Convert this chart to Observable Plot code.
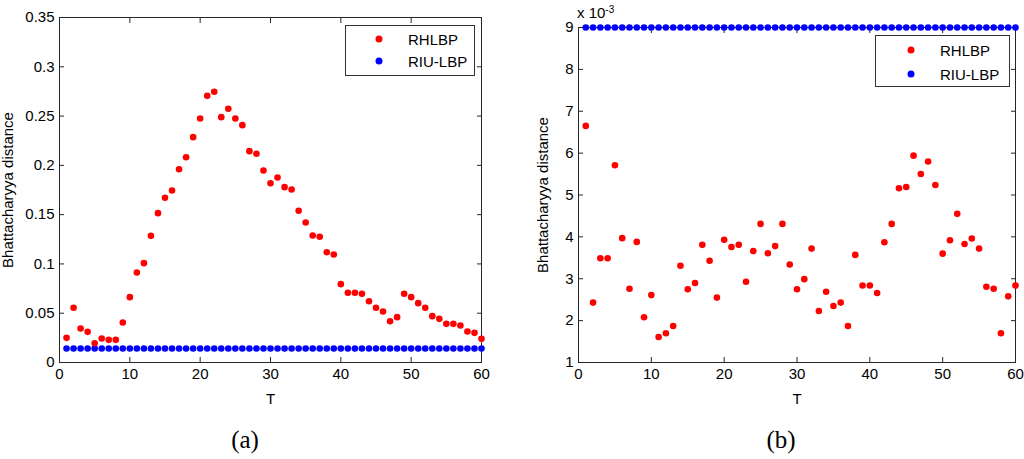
<!DOCTYPE html>
<html><head><meta charset="utf-8">
<script src="https://cdn.jsdelivr.net/npm/d3@7"></script>
<script src="https://cdn.jsdelivr.net/npm/@observablehq/plot@0.6"></script>
<style>
body{margin:0;background:#fff;}
#wrap{position:relative;width:1024px;height:459px;overflow:hidden;font-family:"Liberation Sans",Arial,sans-serif;color:#000;}
.panel{position:absolute;top:0;}
.legend{position:absolute;border:1px solid #333;background:#fff;box-sizing:border-box;}
.li{position:absolute;font-size:15px;line-height:15px;transform:translateY(-50%);white-space:nowrap;}
.dot{position:absolute;width:7px;height:7px;border-radius:50%;transform:translate(-50%,-50%);}
.cap{position:absolute;font-family:"Liberation Serif","Times New Roman",serif;font-size:25px;transform:translate(-50%,-50%);}
.exp{position:absolute;font-size:15px;line-height:15px;white-space:nowrap;}
</style></head><body><div id="wrap"></div>
<script>
// ---- data ----
const T = [1,2,3,4,5,6,7,8,9,10,11,12,13,14,15,16,17,18,19,20,21,22,23,24,25,26,27,28,29,30,
  31,32,33,34,35,36,37,38,39,40,41,42,43,44,45,46,47,48,49,50,51,52,53,54,55,56,57,58,59,60];
const seriesNames = ["RHLBP", "RIU-LBP"];
const seriesColors = ["#ff0000", "#0000ff"];

// panel (a)
const rhlbpA = [0.0250,0.0555,0.0345,0.0311,0.0196,0.0243,0.0230,0.0230,0.0406,0.0663,
  0.0913,0.1008,0.1285,0.1515,0.1671,0.1745,0.1961,0.2083,0.2286,0.2476,
  0.2705,0.2746,0.2489,0.2574,0.2476,0.2408,0.2144,0.2117,0.1948,0.1819,
  0.1877,0.1779,0.1755,0.1539,0.1420,0.1288,0.1275,0.1119,0.1096,0.0795,
  0.0707,0.0707,0.0697,0.0622,0.0555,0.0517,0.0419,0.0460,0.0697,0.0663,
  0.0602,0.0555,0.0470,0.0443,0.0392,0.0392,0.0375,0.0315,0.0301,0.0240];
const riuA = [0.0142,0.0142,0.0142,0.0142,0.0142,0.0142,0.0142,0.0142,0.0142,0.0142,
  0.0142,0.0142,0.0142,0.0142,0.0142,0.0142,0.0142,0.0142,0.0142,0.0142,
  0.0142,0.0142,0.0142,0.0142,0.0142,0.0142,0.0142,0.0142,0.0142,0.0142,
  0.0142,0.0142,0.0142,0.0142,0.0142,0.0142,0.0142,0.0142,0.0142,0.0142,
  0.0142,0.0142,0.0142,0.0142,0.0142,0.0142,0.0142,0.0142,0.0142,0.0142,
  0.0142,0.0142,0.0142,0.0142,0.0142,0.0142,0.0142,0.0142,0.0142,0.0142];

// panel (b)
const rhlbpB = [0.00665,0.00243,0.00349,0.00349,0.00571,0.00397,0.00276,0.00388,0.00208,0.00261,
  0.00161,0.00170,0.00187,0.00331,0.00275,0.00290,0.00381,0.00343,0.00255,0.00393,
  0.00376,0.00381,0.00293,0.00366,0.00431,0.00361,0.00378,0.00431,0.00334,0.00275,
  0.00299,0.00372,0.00223,0.00269,0.00235,0.00243,0.00187,0.00357,0.00284,0.00284,
  0.00266,0.00387,0.00431,0.00516,0.00519,0.00594,0.00550,0.00580,0.00524,0.00360,
  0.00392,0.00455,0.00383,0.00396,0.00372,0.00281,0.00276,0.00170,0.00258,0.00284];
const riuB = [0.009,0.009,0.009,0.009,0.009,0.009,0.009,0.009,0.009,0.009,
  0.009,0.009,0.009,0.009,0.009,0.009,0.009,0.009,0.009,0.009,
  0.009,0.009,0.009,0.009,0.009,0.009,0.009,0.009,0.009,0.009,
  0.009,0.009,0.009,0.009,0.009,0.009,0.009,0.009,0.009,0.009,
  0.009,0.009,0.009,0.009,0.009,0.009,0.009,0.009,0.009,0.009,
  0.009,0.009,0.009,0.009,0.009,0.009,0.009,0.009,0.009,0.009];

const xTicks = [0,10,20,30,40,50,60];
const yTicksA = [0,0.05,0.1,0.15,0.2,0.25,0.3,0.35];
const yTicksB = [0.001,0.002,0.003,0.004,0.005,0.006,0.007,0.008,0.009];
const xLabel = "T";
const yLabel = "Bhattacharyya distance";
const captions = ["(a)", "(b)"];

// ---- drawing ----
const wrap = document.getElementById("wrap");
const style = {fontFamily: '"Liberation Sans", Arial, sans-serif', fontSize: "15px", color: "#000", background: "transparent", overflow: "visible"};
const frameColor = "#262626";

function panel({rh, riu, yDomain, yTicks, yFmt, ml, mr, mt, mb, ylabDx}) {
  const rows = T.map((t, i) => ({t, rh: rh[i], riu: riu[i]}));
  return Plot.plot({
    width: 512, height: 410,
    marginLeft: ml, marginRight: mr, marginTop: mt, marginBottom: mb,
    style,
    x: {domain: [0, 60]},
    y: {domain: yDomain},
    marks: [
      Plot.frame({stroke: frameColor}),
      Plot.axisX(xTicks, {anchor: "bottom", tickSize: -5, tickPadding: 11, label: null, stroke: frameColor, fill: "#000", tickFormat: d => String(d)}),
      Plot.axisX(xTicks, {anchor: "top", tickSize: -5, label: null, stroke: frameColor, tickFormat: () => ""}),
      Plot.axisY(yTicks, {anchor: "left", tickSize: -5, tickPadding: 10, label: null, stroke: frameColor, fill: "#000", tickFormat: yFmt}),
      Plot.axisY(yTicks, {anchor: "right", tickSize: -5, label: null, stroke: frameColor, tickFormat: () => ""}),
      Plot.dot(rows, {x: "t", y: "riu", r: 3.3, fill: seriesColors[1], stroke: "none"}),
      Plot.dot(rows, {x: "t", y: "rh", r: 3.3, fill: seriesColors[0], stroke: "none"}),
      Plot.text([xLabel], {frameAnchor: "bottom", dy: 37, lineAnchor: "middle", textAnchor: "middle", fill: "#000", fontSize: 15}),
      Plot.text([yLabel], {frameAnchor: "left", rotate: -90, dx: ylabDx, textAnchor: "middle", lineAnchor: "middle", fill: "#000", fontSize: 15})
    ]
  });
}

const a = panel({rh: rhlbpA, riu: riuA, yDomain: [0, 0.35], yTicks: yTicksA, yFmt: d => String(d),
  ml: 59, mr: 31, mt: 17, mb: 48, ylabDx: -51});
const b = panel({rh: rhlbpB, riu: riuB, yDomain: [0.001, 0.009], yTicks: yTicksB, yFmt: d => String(Math.round(d * 1000)),
  ml: 66, mr: 9, mt: 27, mb: 48, ylabDx: -35});

const da = document.createElement("div"); da.className = "panel"; da.style.left = "0px"; da.appendChild(a); wrap.appendChild(da);
const db = document.createElement("div"); db.className = "panel"; db.style.left = "512px"; db.appendChild(b); wrap.appendChild(db);

// exponent label
const ex = document.createElement("div");
ex.className = "exp"; ex.style.left = "577px"; ex.style.top = "5px";
ex.innerHTML = 'x 10<sup style="font-size:10px;position:relative;top:-3px;vertical-align:top;">-3</sup>';
wrap.appendChild(ex);

// legends
function legend(left, top, w, h, dotX, textX, rowY) {
  const box = document.createElement("div");
  box.className = "legend";
  Object.assign(box.style, {left: left + "px", top: top + "px", width: w + "px", height: h + "px"});
  seriesNames.forEach((name, i) => {
    const d = document.createElement("div");
    d.className = "dot";
    Object.assign(d.style, {left: dotX + "px", top: rowY[i] + "px", background: seriesColors[i]});
    box.appendChild(d);
    const t = document.createElement("div");
    t.className = "li"; t.textContent = name;
    Object.assign(t.style, {left: textX + "px", top: rowY[i] + "px"});
    box.appendChild(t);
  });
  wrap.appendChild(box);
}
legend(345, 25, 130, 51, 33, 62, [13, 35]);
legend(875, 35, 135, 52, 35, 64, [14, 38]);

// captions
[[245, 440], [781, 440]].forEach(([x, y], i) => {
  const c = document.createElement("div");
  c.className = "cap"; c.textContent = captions[i];
  c.style.left = x + "px"; c.style.top = y + "px";
  wrap.appendChild(c);
});
</script></body></html>
